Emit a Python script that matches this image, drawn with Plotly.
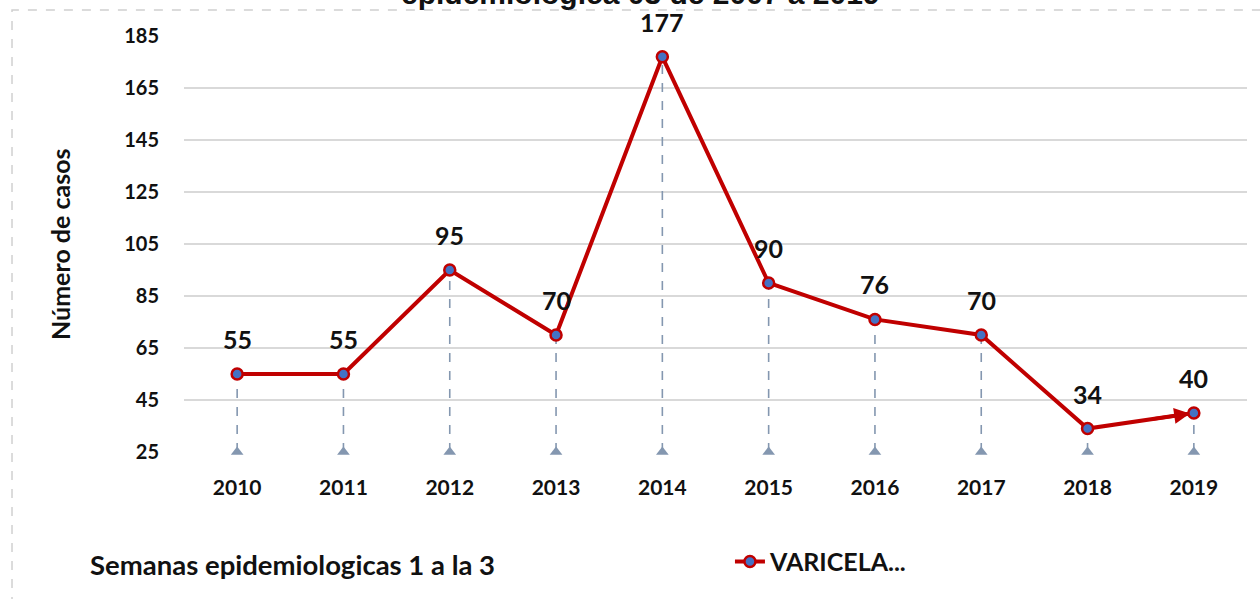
import plotly.graph_objects as go

years = [2010, 2011, 2012, 2013, 2014, 2015, 2016, 2017, 2018, 2019]
year_labels = ["2010", "2011", "2012", "2013", "2014", "2015", "2016", "2017", "2018", "2019"]
cases = [55, 55, 95, 70, 177, 90, 76, 70, 34, 40]
y_ticks = [25, 45, 65, 85, 105, 125, 145, 165, 185]
series_name = "VARICELA..."
title_text = "epidemiologica 03 de 2007 a 2019"
x_title = "Semanas epidemiologicas 1 a la 3"
y_title = "Número de casos"

FONT = "Lato"
y_base = y_ticks[0]

fig = go.Figure()

# drop lines
dx, dy = [], []
for x, y in zip(years, cases):
    dx += [x, x, None]
    dy += [y_base, y, None]
fig.add_trace(go.Scatter(x=dx, y=dy, mode="lines",
                         line=dict(color="#8497B0", width=1.6, dash="dash"),
                         showlegend=False, hoverinfo="skip"))
fig.add_trace(go.Scatter(x=years, y=[y_base] * len(years), mode="markers",
                         marker=dict(symbol="triangle-up", size=11, color="#8497B0"),
                         showlegend=False, hoverinfo="skip", cliponaxis=False))

# main line
fig.add_trace(go.Scatter(x=years, y=cases, mode="lines+markers", name=series_name,
                         line=dict(color="#C00000", width=4),
                         marker=dict(size=11, color="#4472C4",
                                     line=dict(color="#C00000", width=2.5)),
                         cliponaxis=False))

# arrow head at end
fig.add_annotation(x=years[-1], y=cases[-1], ax=years[-2] + 0.6, ay=cases[-2] + 0.6 * (cases[-1] - cases[-2]),
                   xref="x", yref="y", axref="x", ayref="y", text="",
                   showarrow=True, arrowhead=2, arrowsize=0.9, arrowwidth=3.5,
                   arrowcolor="#C00000", standoff=4)

# data labels
for x, y in zip(years, cases):
    fig.add_annotation(x=x, y=y, text=f"<b>{y}</b>", showarrow=False, yshift=35,
                       font=dict(family=FONT, size=25, color="#111111"))

fig.add_annotation(xref="paper", yref="paper", x=-0.1167, y=0.5, xanchor="center", yanchor="middle",
                   text=f"<b>{y_title}</b>", textangle=-90, showarrow=False,
                   font=dict(family=FONT, size=25, color="#111111"))
fig.add_annotation(xref="paper", yref="paper", x=-0.0903, y=-0.2716, xanchor="left", yanchor="middle",
                   text=f"<b>{x_title}</b>", showarrow=False,
                   font=dict(family=FONT, size=27.5, color="#111111"))
fig.add_annotation(xref="paper", yref="paper", x=0.4299, y=1.101, xanchor="center", yanchor="middle",
                   text=f"<b>{title_text}</b>", showarrow=False,
                   font=dict(family="Liberation Sans", size=30, color="#111111"))

fig.add_shape(type="rect", xref="paper", yref="paper", x0=-0.1618, x1=1.02, y0=-0.4, y1=1.0625,
              line=dict(color="#D0D0D0", width=1.5, dash="dash"), fillcolor="rgba(0,0,0,0)", layer="below")

fig.update_xaxes(range=[years[0] - 0.5, years[-1] + 0.5], tickvals=years, ticktext=year_labels,
                 showgrid=False, zeroline=False, showline=False,
                 ticks="outside", ticklen=17, tickcolor="rgba(0,0,0,0)",
                 tickfont=dict(family=FONT, size=21, color="#111111", weight="bold"))
fig.update_yaxes(range=[y_ticks[0], y_ticks[-1]], tickvals=y_ticks,
                 showgrid=True, gridcolor="#D9D9D9", gridwidth=1.5, zeroline=False, showline=False,
                 ticks="outside", ticklen=20, tickcolor="rgba(0,0,0,0)",
                 tickfont=dict(family=FONT, size=20, color="#111111", weight="bold"))

fig.update_layout(
    width=1260, height=599,
    margin=dict(l=184, r=13, t=36, b=147, autoexpand=False),
    plot_bgcolor="white", paper_bgcolor="white",
    showlegend=True,
    legend=dict(x=0.5136, y=-0.264, xanchor="left", yanchor="middle", orientation="h",
                font=dict(family=FONT, size=25, color="#111111", weight="bold"),
                bgcolor="rgba(0,0,0,0)"),
)

fig.write_html("out.html", config={"displayModeBar": False},
               post_script="document.body.style.margin='0';")
